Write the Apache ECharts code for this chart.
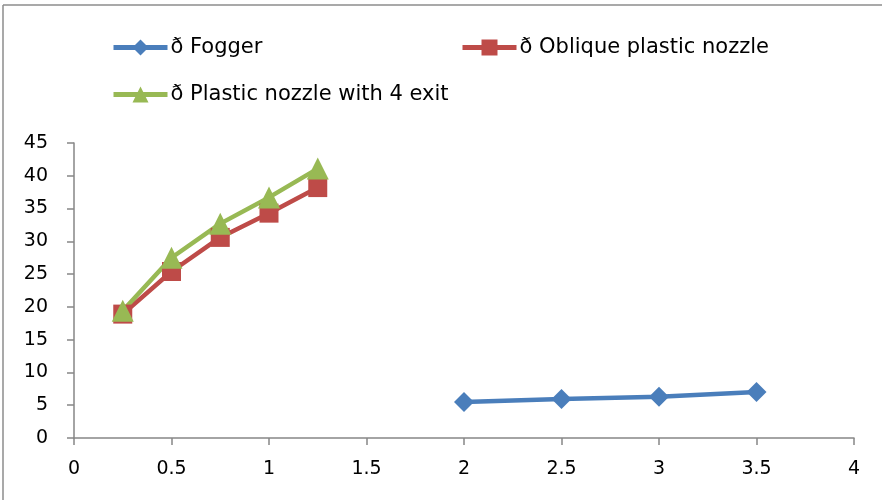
<!DOCTYPE html>
<html>
<head>
<meta charset="utf-8">
<script src="https://cdn.jsdelivr.net/npm/echarts@6/dist/echarts.min.js"></script>
<style>
  html, body { margin: 0; padding: 0; background: #fff; }
  #chart { width: 882px; height: 500px; }
</style>
</head>
<body>
<div id="chart"></div>
<script>
// Series names as shown in the legend
const seriesNames = ['ð Fogger', 'ð Oblique plastic nozzle', 'ð Plastic nozzle with 4 exit'];

// Fogger measurements
const foggerX = [2, 2.5, 3, 3.5];
const foggerY = [5.5, 5.95, 6.3, 7.0];

// Oblique plastic nozzle measurements
const obliqueX = [0.25, 0.5, 0.75, 1, 1.25];
const obliqueY = [18.9, 25.4, 30.6, 34.3, 38.2];

// Plastic nozzle with 4 exits
const fourExitX = [0.25, 0.5, 0.75, 1, 1.25];
const fourExitY = [19.4, 27.5, 32.7, 36.7, 41.1];

const colors = ['#4a7ebb', '#be4b48', '#98b954'];
const font = 'DejaVu Sans, Arial, sans-serif';

function pairs(xs, ys) { return xs.map((x, i) => [x, ys[i]]); }

const chart = echarts.init(document.getElementById('chart'), null, { renderer: 'canvas' });

const legendBase = {
  orient: 'horizontal',
  itemWidth: 54,
  itemHeight: 20,
  itemGap: 4,
  lineStyle: { width: 5 },
  textStyle: { fontFamily: font, fontSize: 21, color: '#000', padding: [0, 0, 0, -2] },
  selectedMode: false
};

chart.setOption({
  backgroundColor: '#fff',
  animation: false,
  graphic: [
    { type: 'line', shape: { x1: 3, y1: 5, x2: 882, y2: 5 }, style: { stroke: '#8c8c8c', lineWidth: 1.5 } },
    { type: 'line', shape: { x1: 3, y1: 5, x2: 3, y2: 500 }, style: { stroke: '#8c8c8c', lineWidth: 1.5 } }
  ],
  legend: [
    Object.assign({}, legendBase, { data: [seriesNames[0]], left: 106, top: 32 }),
    Object.assign({}, legendBase, { data: [seriesNames[1]], left: 455, top: 32 }),
    Object.assign({}, legendBase, { data: [seriesNames[2]], left: 106, top: 79 })
  ],
  grid: { left: 74, right: 28, top: 143, bottom: 62, containLabel: false },
  xAxis: {
    type: 'value',
    min: 0, max: 4, interval: 0.5,
    axisLine: { show: true, lineStyle: { color: '#868686', width: 1.5 } },
    axisTick: { show: true, length: 7, lineStyle: { color: '#868686', width: 1.5 } },
    axisLabel: { fontFamily: font, fontSize: 19, color: '#000', margin: 22 },
    splitLine: { show: false }
  },
  yAxis: {
    type: 'value',
    min: 0, max: 45, interval: 5,
    axisLine: { show: true, lineStyle: { color: '#868686', width: 1.5 } },
    axisTick: { show: true, length: 7, lineStyle: { color: '#868686', width: 1.5 } },
    axisLabel: { fontFamily: font, fontSize: 19, color: '#000', margin: 26 },
    splitLine: { show: false }
  },
  series: [
    {
      name: seriesNames[0], type: 'line', data: pairs(foggerX, foggerY),
      symbol: 'diamond', symbolSize: 20,
      lineStyle: { color: colors[0], width: 4.5 },
      itemStyle: { color: colors[0] }
    },
    {
      name: seriesNames[1], type: 'line', data: pairs(obliqueX, obliqueY),
      symbol: 'rect', symbolSize: 19,
      lineStyle: { color: colors[1], width: 4.5 },
      itemStyle: { color: colors[1] }
    },
    {
      name: seriesNames[2], type: 'line', data: pairs(fourExitX, fourExitY),
      symbol: 'triangle', symbolSize: 22,
      lineStyle: { color: colors[2], width: 4.5 },
      itemStyle: { color: colors[2] }
    }
  ]
});
</script>
</body>
</html>
